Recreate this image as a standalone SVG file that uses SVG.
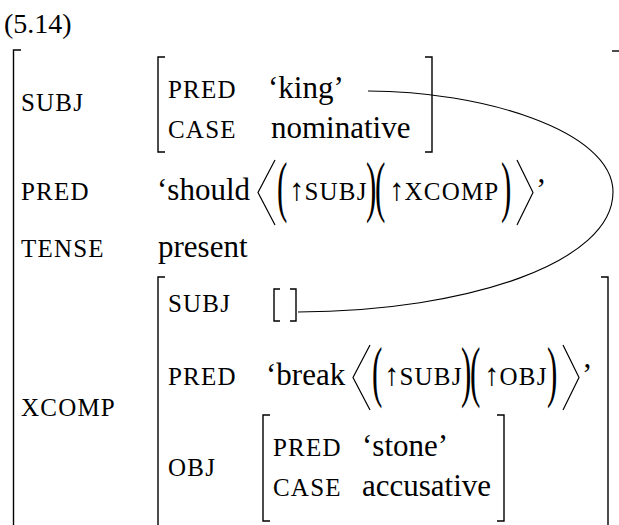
<svg xmlns="http://www.w3.org/2000/svg" width="619" height="525" viewBox="0 0 619 525">
<style>
text{font-family:"Liberation Serif","Times New Roman",serif;fill:#000}
.r{font-size:31px}
.num{font-size:28px}
.sc{font-size:25px;letter-spacing:1.2px}
.br{fill:none;stroke:#000;stroke-width:1.4}
.dl{fill:none;stroke:#000;stroke-width:1.2;stroke-linejoin:miter}
.link{fill:none;stroke:#000;stroke-width:1.1}
</style>
<rect width="619" height="525" fill="#fff"/>

<g id="example-number">
<text class="num" x="4" y="33">(5.14)</text>
</g>

<g id="outer-fstructure">
<path class="br" d="M21,50H13.5V530"/>
<path class="br" d="M612,51H625"/>
<text class="sc" x="21" y="111">SUBJ</text>
<text class="sc" x="21" y="200">PRED</text>
<text class="sc" x="21" y="257">TENSE</text>
<text class="sc" x="21" y="416">XCOMP</text>
<text class="r" x="157" y="200">‘should</text>
<path class="dl" d="M275,160L258,192.5L275,225"/>
<text class="r" transform="translate(277,209.2) scale(1,2.15)">(</text>
<text x="289" y="200"><tspan class="r">↑</tspan><tspan class="sc">SUBJ</tspan></text>
<text class="r" transform="translate(366,209.2) scale(1,2.15)">)</text>
<text class="r" transform="translate(375,209.2) scale(1,2.15)">(</text>
<text x="389" y="200"><tspan class="r">↑</tspan><tspan class="sc">XCOMP</tspan></text>
<text class="r" transform="translate(501,209.2) scale(1,2.15)">)</text>
<path class="dl" d="M517,160L533,192.5L517,225"/>
<text class="r" x="536" y="200">’</text>
<text class="r" x="158" y="257">present</text>
</g>

<g id="subj-fstructure">
<path class="br" d="M165,57H158V152H165"/>
<path class="br" d="M425,57H432V152H425"/>
<text class="sc" x="168" y="98">PRED</text>
<text class="r" x="268" y="98">‘king’</text>
<text class="sc" x="168" y="138">CASE</text>
<text class="r" x="271" y="138">nominative</text>
</g>

<g id="xcomp-fstructure">
<path class="br" d="M165,277H158V530"/>
<path class="br" d="M601,277H608V530"/>
<text class="sc" x="168" y="312">SUBJ</text>
<text class="sc" x="168" y="385">PRED</text>
<text class="sc" x="168" y="476">OBJ</text>
<text class="r" x="266" y="385">‘break</text>
<path class="dl" d="M370,345L353,377.5L370,410"/>
<text class="r" transform="translate(372,394.2) scale(1,2.15)">(</text>
<text x="384" y="385"><tspan class="r">↑</tspan><tspan class="sc">SUBJ</tspan></text>
<text class="r" transform="translate(461,394.2) scale(1,2.15)">)</text>
<text class="r" transform="translate(470,394.2) scale(1,2.15)">(</text>
<text x="484" y="385"><tspan class="r">↑</tspan><tspan class="sc">OBJ</tspan></text>
<text class="r" transform="translate(547,394.2) scale(1,2.15)">)</text>
<path class="dl" d="M563,345L579,377.5L563,410"/>
<text class="r" x="582" y="385">’</text>
</g>

<g id="xcomp-subj-fstructure">
<path class="br" d="M280,289H274V321H280"/>
<path class="br" d="M290,289H296V321H290"/>
</g>

<g id="obj-fstructure">
<path class="br" d="M270,415H263V521H270"/>
<path class="br" d="M497,415H504V521H497"/>
<text class="sc" x="273" y="456">PRED</text>
<text class="r" x="362" y="456">‘stone’</text>
<text class="sc" x="273" y="496">CASE</text>
<text class="r" x="362" y="496">accusative</text>
</g>

<g id="connectors">
<path class="link" d="M368,91C480,91 613,130 613,192C613,262 470,311 298,312"/>
</g>
</svg>
